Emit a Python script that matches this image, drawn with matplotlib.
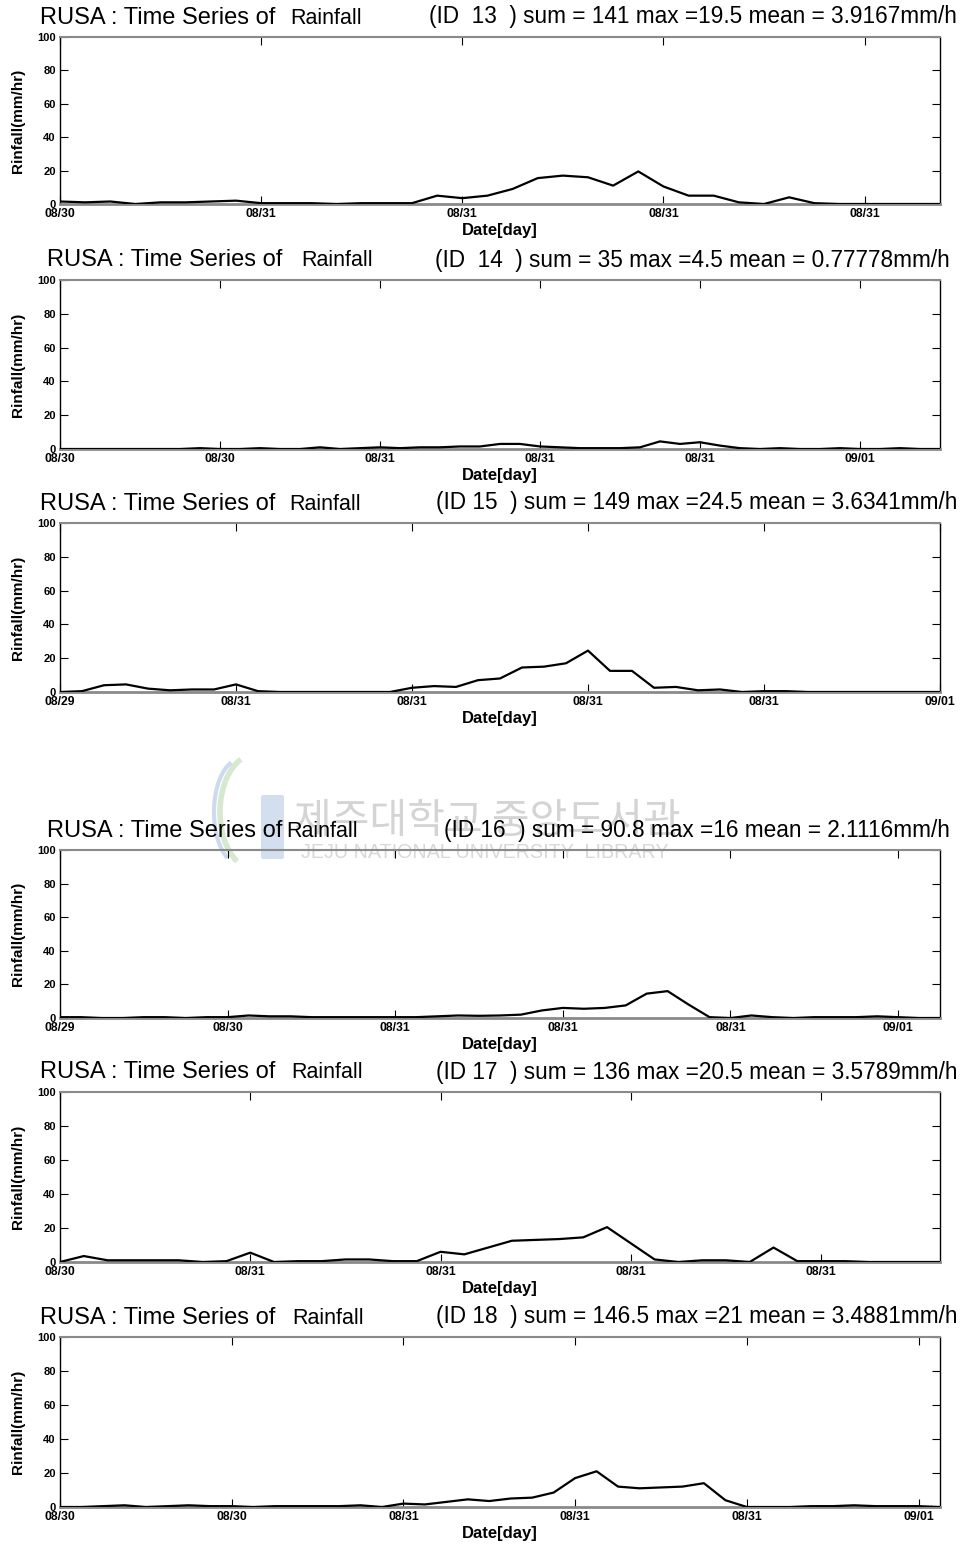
import numpy as np
import matplotlib.pyplot as plt
from matplotlib.patches import FancyBboxPatch, Arc

plt.rcParams['font.family'] = ['Liberation Sans', 'DejaVu Sans']

# 시간당 강우량 (mm/hr), 관측소별
rain_13 = [1.5, 1, 1.5, 0, 1, 1, 1.5, 2, 0.5, 0.5, 0.5, 0, 0.5, 0.5, 0.5,
           5, 3.5, 5, 9, 15.5, 17, 16, 11, 19.5, 10.5, 5, 5, 1, 0, 4, 0.5,
           0, 0, 0, 0, 0]
rain_14 = [0, 0, 0, 0, 0, 0, 0, 0.5, 0, 0, 0.5, 0, 0, 1, 0, 0.5,
           1, 0.5, 1, 1, 1.5, 1.5, 3, 3, 1.5, 1, 0.5, 0.5, 0.5, 1,
           4.5, 3, 4, 2, 0.5, 0, 0.5, 0, 0, 0.5, 0, 0, 0.5, 0, 0]
rain_15 = [0, 0.5, 4, 4.5, 2, 1, 1.5, 1.5, 4.5, 0.5, 0, 0, 0, 0, 0, 0,
           2.5, 3.5, 3, 7, 8, 14.5, 15, 17, 24.5, 12.5, 12.5, 2.5, 3, 1, 1.5,
           0, 0.5, 0.5, 0, 0, 0, 0, 0, 0, 0]
rain_16 = [0.5, 0.5, 0, 0, 0.5, 0.5, 0, 0.5, 0.5, 1.5, 1, 1, 0.5, 0.5, 0.5, 0.5,
           0.5, 0.5, 1, 1.5, 1.3, 1.5, 2, 4.5, 6, 5.5, 6, 7.5, 14.5, 16, 8,
           0.5, 0, 1.5, 0.5, 0, 0.5, 0.5, 0.5, 1, 0.5, 0, 0]
rain_17 = [0, 3.5, 1, 1, 1, 1, 0, 0.5, 5.5, 0, 0.5, 0.5, 1.5, 1.5, 0.5, 0.5,
           6, 4.5, 8.5, 12.5, 13, 13.5, 14.5, 20.5, 11, 1.5,
           0, 1, 1, 0, 8.5, 0.5, 0.5, 0.5, 0, 0, 0, 0]
rain_18 = [0, 0, 0.5, 1, 0, 0.5, 1, 0.5, 0.5, 0, 0.5, 0.5, 0.5, 0.5, 1, 0,
           2, 1.5, 3, 4.5, 3.5, 5, 5.5, 8.5, 17, 21, 12, 11, 11.5, 12, 14, 4,
           0, 0, 0, 0.5, 0.5, 1, 0.5, 0.5, 0.5, 0]
series = [rain_13, rain_14, rain_15, rain_16, rain_17, rain_18]

# 8시간 간격 눈금 라벨
ticks_13 = ['08/30', '08/31', '08/31', '08/31', '08/31']
ticks_14 = ['08/30', '08/30', '08/31', '08/31', '08/31', '09/01']
ticks_15 = ['08/29', '08/31', '08/31', '08/31', '08/31', '09/01']
ticks_16 = ['08/29', '08/30', '08/31', '08/31', '08/31', '09/01']
ticks_17 = ['08/30', '08/31', '08/31', '08/31', '08/31']
ticks_18 = ['08/30', '08/30', '08/31', '08/31', '08/31', '09/01']
tick_labels = [ticks_13, ticks_14, ticks_15, ticks_16, ticks_17, ticks_18]

id_text = ['ID  13', 'ID  14', 'ID 15', 'ID 16', 'ID 17', 'ID 18']
sums = ['141', '35', '149', '90.8', '136', '146.5']
maxs = ['19.5', '4.5', '24.5', '16', '20.5', '21']
means = ['3.9167', '0.77778', '3.6341', '2.1116', '3.5789', '3.4881']

# 배치 (픽셀 단위)
W, H = 963, 1544
ax_left, ax_right = 60, 940
ax_tops = [37, 280, 523, 850, 1092, 1337]
ax_bots = [204, 449, 692, 1018, 1262, 1507]
title_x = [40, 47, 40, 47, 40, 40]
rain_x = [290, 301, 289, 286, 291, 292]
stat_right = [957, 950, 957, 950, 957, 957]


def fx(x):
    return x / W


def fy(y):
    return 1 - y / H


fig = plt.figure(figsize=(W / 100, H / 100), dpi=100)
fig.patch.set_facecolor('white')

# 도서관 워터마크 (배경)
wm = fig.add_axes([0, 0, 1, 1], zorder=-5)
wm.set_xlim(0, W)
wm.set_ylim(H, 0)
wm.axis('off')
wm.add_patch(FancyBboxPatch((263, 797), 19, 60, boxstyle='round,pad=2',
                            fc='#c9d6ea', ec='none', alpha=0.8))
wm.add_patch(Arc((255, 812), 70, 115, theta1=110, theta2=255, lw=4,
                 color='#d3e6cc', alpha=0.9))
wm.add_patch(Arc((240, 812), 52, 105, theta1=105, theta2=260, lw=3,
                 color='#c8d8ee', alpha=0.9))
fig.text(fx(487), fy(821), '제주대학교 중앙도서관', family=['Noto Sans CJK KR'],
         fontsize=29.5, color='#d4d4d4', ha='center', va='center', zorder=-4)
fig.text(fx(485), fy(853), 'JEJU NATIONAL UNIVERSITY  LIBRARY', fontsize=14.2,
         color='#d8d8d8', ha='center', va='center', zorder=-4)

for k in range(6):
    top, bot = ax_tops[k], ax_bots[k]
    ax = fig.add_axes([fx(ax_left), fy(bot), (ax_right - ax_left) / W,
                       (bot - top) / H])
    ax.patch.set_alpha(0)
    y = np.array(series[k])
    x = np.arange(len(y))
    ax.plot(x, y, color='black', lw=1.6, zorder=3)
    ax.set_xlim(0, len(y) - 1)
    ax.set_ylim(0, 100)
    ax.set_yticks(range(0, 101, 20))
    ax.set_xticks(range(0, len(y), 8))
    ax.set_xticklabels(tick_labels[k])
    ax.tick_params(direction='in', length=6, width=0.8, top=True, right=True,
                   pad=3)
    ax.tick_params(axis='x', labelsize=8.8)
    ax.tick_params(axis='y', labelsize=8)
    for lab in ax.get_xticklabels() + ax.get_yticklabels():
        lab.set_fontweight('bold')
    for side in ['left', 'right']:
        ax.spines[side].set_color('black')
        ax.spines[side].set_linewidth(1)
    ax.spines['top'].set_color('#8a8a8a')
    ax.spines['top'].set_linewidth(1.5)
    ax.spines['bottom'].set_color('#8a8a8a')
    ax.spines['bottom'].set_linewidth(2)

    ax.set_ylabel('Rinfall(mm/hr)', fontsize=11, fontweight='bold')
    ax.yaxis.set_label_coords((25 - ax_left) / (ax_right - ax_left), 0.5)
    ax.set_xlabel('Date[day]', fontsize=12, fontweight='bold')
    ax.xaxis.set_label_coords(0.5, -(223 - 204) / (bot - top))

    base = fy(top - 13.5)
    fig.text(fx(title_x[k]), base, 'RUSA : Time Series of', fontsize=17,
             ha='left', va='baseline')
    fig.text(fx(rain_x[k]), base, 'Rainfall', fontsize=15.5, ha='left',
             va='baseline')
    stat = '({}  ) sum = {} max ={} mean = {}mm/h'.format(
        id_text[k], sums[k], maxs[k], means[k])
    fig.text(fx(stat_right[k]), base, stat, fontsize=16.3, ha='right',
             va='baseline')

fig.savefig('out.png', dpi=100)
